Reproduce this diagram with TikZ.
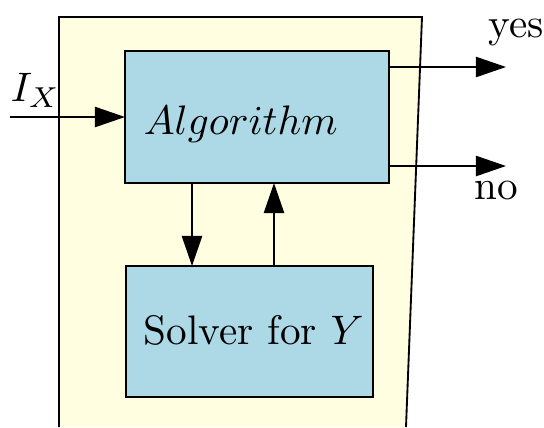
\documentclass[tikz,border=0pt]{standalone}
\usetikzlibrary{arrows.meta}
\definecolor{bgyellow}{RGB}{255,254,224}
\definecolor{boxblue}{RGB}{173,216,230}
\begin{document}
\begin{tikzpicture}[x=0.2427pt,y=-0.2427pt,
  box/.style={draw, fill=boxblue, line width=0.45pt, inner sep=0pt, outer sep=0pt},
  arr/.style={line width=0.45pt, -{Triangle[length=7.3pt,width=4.9pt]}},
  lbl/.style={inner sep=0pt, anchor=base west}]
\useasboundingbox (0,0) rectangle (544,427);
% background panel
\fill[bgyellow] (59,427) -- (59,17) -- (422,17) -- (406,427) -- cycle;
\draw[line width=0.45pt] (59,427) -- (59,17) -- (422,17) -- (406,427);
% boxes
\node[box, minimum width=64.07pt, minimum height=32.04pt] (alg) at (257,117) {};
\node[box, minimum width=59.95pt, minimum height=31.79pt] (solver) at (249.5,331.5) {};
\node[lbl] (algtext) at (143,134) {$Algorithm$};
\node[lbl] (solvertext) at (143,344) {Solver for $Y$};
% coordinates
\coordinate (in) at (10,117);
\coordinate (yesend) at (506,67);
\coordinate (noend) at (506,166);
\coordinate (dn) at (192,0);
\coordinate (up) at (274,0);
% connectors
\draw[arr] (in) -- (alg.west);
\draw[arr] (alg.east |- yesend) -- (yesend);
\draw[arr] (alg.east |- noend) -- (noend);
\draw[arr] (alg.south -| dn) -- (solver.north -| dn);
\draw[arr] (solver.north -| up) -- (alg.south -| up);
% labels
\node[lbl] (ix) at (10,101) {$I_X$};
\node[lbl] (yes) at (488,37) {yes};
\node[lbl] (no) at (474,199) {no};
\end{tikzpicture}
\end{document}
